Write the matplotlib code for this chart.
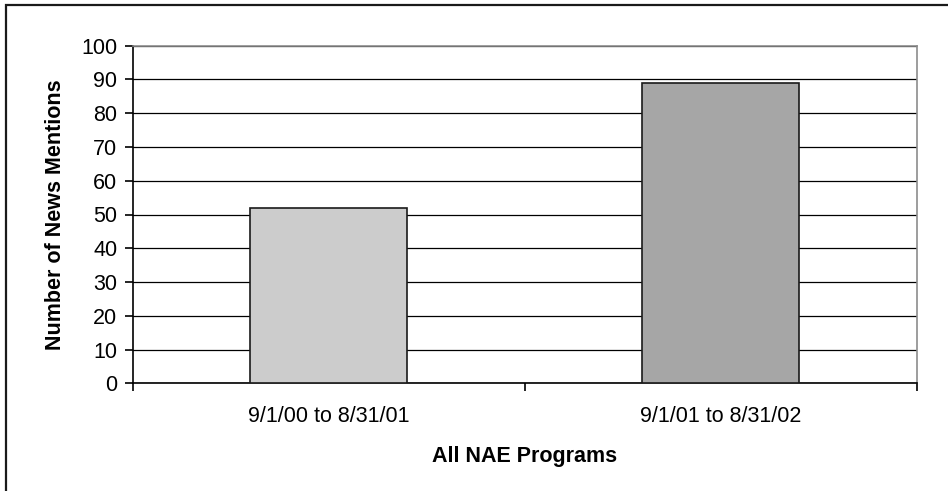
import matplotlib
matplotlib.use("Agg")
import matplotlib.pyplot as plt
from matplotlib.patches import Rectangle

plt.rcParams['font.family'] = ['Liberation Sans', 'DejaVu Sans']

categories = ["9/1/00 to 8/31/01", "9/1/01 to 8/31/02"]
mentions = [52, 89]
bar_colors = ["#cccccc", "#a6a6a6"]
y_ticks = list(range(0, 101, 10))

W, H = 948, 491
fig = plt.figure(figsize=(W / 100, H / 100), dpi=100)

# outer frame of the chart
fig.patches.append(Rectangle((6 / W, -0.02), 1.05, 1 - 5 / H + 0.02,
                             transform=fig.transFigure, fill=False,
                             edgecolor="#1a1a1a", linewidth=1.6, zorder=0))

ax = fig.add_axes([132.7 / W, 1 - 383.3 / H, (916.7 - 132.7) / W, (383.3 - 45.7) / H])

x = list(range(len(categories)))
ax.bar(x, mentions, width=0.4, color=bar_colors, edgecolor="#1a1a1a",
       linewidth=1.2, zorder=3)

ax.set_xlim(-0.5, len(categories) - 0.5)
ax.set_ylim(0, 100)
ax.set_yticks(y_ticks)
ax.set_yticklabels([str(v) for v in y_ticks], fontsize=15.5)
ax.yaxis.grid(True, color="black", linewidth=0.9, zorder=1)
ax.set_axisbelow(True)

# category labels centred, tick marks between categories
ax.set_xticks(x)
ax.set_xticklabels(categories, fontsize=15.5)
ax.tick_params(axis="x", length=0, pad=16)
ax.set_xticks([-0.5 + i for i in range(len(categories) + 1)], minor=True)
ax.tick_params(axis="x", which="minor", length=6, width=1.2, color="black")
ax.tick_params(axis="y", length=6, width=1.2, color="black", pad=5)

for side in ("top", "right"):
    ax.spines[side].set_color("#8c8c8c")
    ax.spines[side].set_linewidth(1.2)
for side in ("left", "bottom"):
    ax.spines[side].set_color("black")
    ax.spines[side].set_linewidth(1.2)

ax.set_ylabel("Number of News Mentions", fontsize=15.5, fontweight="bold", labelpad=11)
ax.set_xlabel("All NAE Programs", fontsize=15.5, fontweight="bold", labelpad=14)

fig.savefig("out.png", dpi=100)
